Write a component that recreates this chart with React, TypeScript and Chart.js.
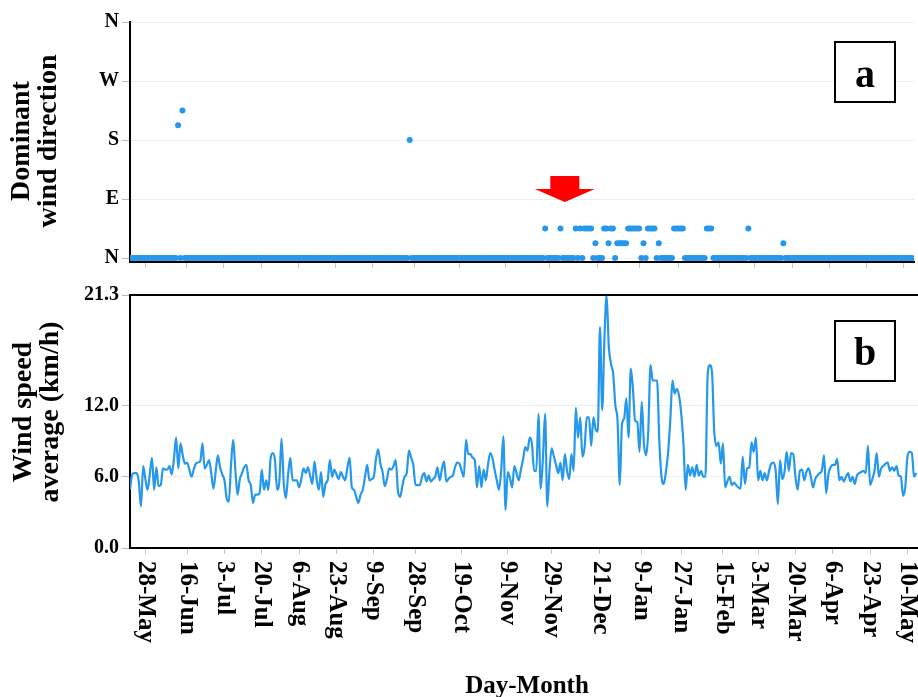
import { useEffect, useRef } from 'react';
import { Chart, registerables } from 'chart.js';

Chart.register(...registerables);

const FONT = "'Liberation Serif', 'Times New Roman', serif";
const BLUE = 'rgb(38, 152, 236)';

// Day 0 is 21-May; every series below is indexed by day.
const dayTickLabels = [
  '28-May', '16-Jun', '3-Jul', '20-Jul', '6-Aug', '23-Aug', '9-Sep', '28-Sep', '19-Oct', '9-Nov',
  '29-Nov', '21-Dec', '9-Jan', '27-Jan', '15-Feb', '3-Mar', '20-Mar', '6-Apr', '23-Apr', '10-May',
];
const dayTickOffsets = [7, 26, 43, 60, 77, 94, 111, 130, 151, 172, 192, 214, 233, 251, 270, 286, 303, 320, 337, 354];
const lastDay = 358.8;

// Daily average wind speed (km/h)
const windSpeed = [
  4.9, 6.2, 6.3, 6.3, 5.6, 3.5, 6.9, 5.8, 4.9, 6.2,
  7.6, 4.9, 6.8, 5.2, 5.3, 6.7, 6.6, 6.6, 6.9, 6.2,
  7.5, 9.3, 6.7, 8.8, 7.8, 7.1, 7.2, 6.6, 6.0, 6.6,
  7.1, 7.2, 7.3, 8.8, 6.7, 7.0, 7.4, 6.3, 5.0, 6.4,
  7.8, 6.8, 6.2, 5.7, 4.2, 3.9, 7.0, 9.1, 6.5, 4.5,
  5.8, 6.3, 6.8, 7.0, 5.7, 5.3, 3.8, 4.5, 4.5, 4.6,
  6.6, 4.9, 5.7, 4.9, 7.5, 8.0, 7.4, 4.9, 5.6, 9.2,
  5.5, 4.2, 6.2, 7.6, 5.7, 5.7, 5.7, 5.1, 5.8, 6.7,
  6.3, 6.8, 6.1, 5.4, 7.3, 5.8, 4.9, 6.4, 4.3, 5.4,
  5.7, 7.4, 6.0, 6.6, 6.2, 5.8, 6.4, 6.0, 5.7, 6.8,
  7.6, 5.1, 4.9, 4.3, 3.8, 4.5, 4.9, 6.0, 7.0, 5.7,
  5.8, 6.0, 7.5, 8.3, 7.1, 6.4, 5.2, 5.8, 6.7, 6.6,
  6.9, 7.4, 4.8, 4.3, 5.2, 6.0, 6.3, 8.2, 7.6, 7.0,
  5.3, 5.3, 5.3, 6.0, 6.3, 5.6, 6.1, 5.6, 5.8, 6.0,
  6.8, 5.7, 6.6, 7.3, 5.6, 5.8, 6.0, 6.1, 6.8, 7.2,
  7.1, 6.5, 6.0, 9.1, 7.9, 7.9, 7.6, 7.4, 5.1, 6.9,
  5.1, 6.6, 5.7, 7.0, 8.0, 7.6, 6.6, 5.7, 4.9, 6.5,
  9.4, 3.2, 6.4, 5.9, 5.1, 6.9, 6.3, 5.7, 6.6, 7.5,
  8.5, 8.2, 9.3, 8.8, 6.5, 6.5, 11.3, 5.0, 7.5, 11.3,
  3.5, 6.5, 8.4, 7.7, 7.0, 6.3, 7.2, 5.7, 7.9, 6.5,
  5.8, 7.9, 6.5, 11.8, 9.3, 11.0, 7.7, 8.5, 11.0, 11.0,
  8.6, 11.0, 10.0, 9.8, 18.6, 11.6, 17.5, 21.3, 17.0, 15.5,
  14.7, 12.0, 10.7, 5.3, 10.4, 10.9, 12.6, 9.3, 15.1, 13.4,
  10.7, 10.6, 8.1, 12.3, 8.8, 7.8, 9.9, 15.4, 14.1, 14.1,
  14.1, 9.1, 6.0, 5.4, 6.4, 8.0, 10.7, 14.1, 13.0, 13.4,
  12.8, 11.3, 8.8, 4.9, 7.0, 6.1, 6.8, 6.0, 7.0, 6.1,
  6.5, 6.0, 6.0, 14.5, 15.4, 14.8, 9.9, 8.6, 8.9, 7.1,
  8.8, 5.1, 5.6, 6.0, 5.3, 5.5, 5.3, 5.1, 5.0, 7.7,
  5.4, 6.7, 6.8, 8.9, 8.1, 9.3, 5.7, 6.5, 5.7, 6.3,
  5.7, 6.5, 7.1, 7.2, 6.5, 3.7, 7.4, 5.8, 6.4, 8.1,
  6.5, 8.0, 7.9, 6.0, 4.9, 6.5, 6.6, 5.7, 6.4, 6.7,
  6.0, 5.1, 5.8, 6.1, 6.3, 6.5, 7.8, 4.6, 6.2, 6.8,
  7.0, 7.0, 7.5, 5.7, 6.0, 5.6, 6.0, 6.3, 5.6, 6.0,
  5.4, 6.1, 6.3, 6.4, 6.5, 6.3, 8.6, 5.3, 5.8, 6.5,
  8.0, 6.0, 6.7, 6.9, 7.1, 7.2, 6.5, 6.8, 6.5, 6.9,
  6.1, 6.0, 4.4, 5.1, 7.7, 8.1, 8.0, 6.0, 6.3,
];

// Dominant wind direction: north (0°) on every day except those listed here
const turnDays = [
  22, 24, 128, 190, 197, 204, 206, 208, 209, 210, 211, 213, 217, 218, 219, 220, 221,
  223, 224, 225, 226, 227, 228, 229, 230, 231, 232, 233, 235, 237, 238, 239, 240, 242,
  249, 250, 251, 252, 253, 264, 265, 266, 283, 299,
];
const turnDegrees = [
  202.5, 225, 180, 45, 45, 45, 45, 45, 45, 45, 45, 22.5, 45, 45, 22.5, 45, 45,
  22.5, 22.5, 22.5, 22.5, 22.5, 45, 45, 45, 45, 45, 45, 22.5, 45, 45, 45, 45, 22.5,
  45, 45, 45, 45, 45, 45, 45, 45, 45, 22.5,
];

const directionTicks = [0, 90, 180, 270, 360];
const directionLabels = ['N', 'E', 'S', 'W', 'N'];
const speedTicks = [0, 6, 12, 21.3];
const arrowDay = 199;

const WIDTH = 918;
const TOP_H = 280;
const BOTTOM_H = 417;

function xAxis(height: number) {
  return {
    type: 'linear' as const,
    min: 0,
    max: lastDay,
    afterBuildTicks: (s: any) => {
      s.ticks = dayTickOffsets.map((v) => ({ value: v }));
    },
    afterFit: (s: any) => {
      s.height = height;
    },
    ticks: { display: false },
    grid: { drawOnChartArea: false, drawTicks: true, tickLength: 6, tickColor: '#c4c4c4', tickWidth: 1 },
    border: { display: true, color: '#000', width: 2 },
  };
}

function yAxisBase() {
  return {
    afterFit: (s: any) => {
      s.width = 130;
    },
    grid: { color: '#ededed', lineWidth: 1, drawTicks: true, tickLength: 8, tickColor: '#b8b8b8' },
    border: { display: true, color: '#000', width: 2 },
  };
}

function drawRotatedTitle(ctx: CanvasRenderingContext2D, lines: string[], xs: number[], y: number) {
  ctx.save();
  ctx.fillStyle = '#000';
  ctx.font = `bold 28px ${FONT}`;
  ctx.textAlign = 'center';
  ctx.textBaseline = 'middle';
  lines.forEach((t, i) => {
    ctx.save();
    ctx.translate(xs[i], y);
    ctx.rotate(-Math.PI / 2);
    ctx.fillText(t, 0, 0);
    ctx.restore();
  });
  ctx.restore();
}

function drawPanelTag(ctx: CanvasRenderingContext2D, letter: string, x: number, y: number, baseline: number) {
  ctx.save();
  ctx.fillStyle = '#fff';
  ctx.fillRect(x, y, 60, 60);
  ctx.strokeStyle = '#000';
  ctx.lineWidth = 2;
  ctx.strokeRect(x, y, 60, 60);
  ctx.fillStyle = '#000';
  ctx.font = `bold 40px ${FONT}`;
  ctx.textAlign = 'center';
  ctx.textBaseline = 'alphabetic';
  ctx.fillText(letter, x + 30, baseline);
  ctx.restore();
}

const tickFont = { family: FONT, size: 20, weight: 'bold' as const };

export default function App() {
  const topRef = useRef<HTMLCanvasElement>(null);
  const bottomRef = useRef<HTMLCanvasElement>(null);

  useEffect(() => {
    const directionPoints = windSpeed.map((_, day) => {
      const k = turnDays.indexOf(day);
      return { x: day, y: k >= 0 ? turnDegrees[k] : 0 };
    });
    const speedPoints = windSpeed.map((v, day) => ({ x: day, y: v }));

    const topChart = new Chart(topRef.current!, {
      type: 'scatter',
      data: {
        datasets: [
          {
            data: directionPoints,
            pointRadius: 3,
            pointBackgroundColor: BLUE,
            pointBorderWidth: 0,
            showLine: false,
          },
        ],
      },
      options: {
        responsive: false,
        animation: false,
        devicePixelRatio: 1,
        events: [],
        layout: { padding: { top: 22, left: 0, right: 0, bottom: 0 } },
        plugins: { legend: { display: false }, tooltip: { enabled: false } },
        scales: {
          x: xAxis(TOP_H - 262),
          y: {
            ...yAxisBase(),
            type: 'linear',
            min: -6,
            max: 360,
            afterBuildTicks: (s: any) => {
              s.ticks = directionTicks.map((v) => ({ value: v }));
            },
            ticks: {
              color: '#000',
              font: tickFont,
              padding: 3,
              callback: (_v: any, i: number) => directionLabels[i],
            },
          },
        },
      },
      plugins: [
        {
          id: 'directionDecor',
          afterDatasetsDraw(chart: any) {
            const { ctx, scales } = chart;
            const cx = scales.x.getPixelForValue(arrowDay);
            const tip = scales.y.getPixelForValue(90) + 3;
            ctx.save();
            ctx.fillStyle = '#ff0000';
            ctx.beginPath();
            ctx.moveTo(cx - 14.5, tip - 26);
            ctx.lineTo(cx + 14.5, tip - 26);
            ctx.lineTo(cx + 14.5, tip - 13);
            ctx.lineTo(cx + 30, tip - 13);
            ctx.lineTo(cx, tip);
            ctx.lineTo(cx - 30, tip - 13);
            ctx.lineTo(cx - 14.5, tip - 13);
            ctx.closePath();
            ctx.fill();
            ctx.restore();
          },
          afterDraw(chart: any) {
            const { ctx } = chart;
            drawRotatedTitle(ctx, ['Dominant', 'wind direction'], [22, 49], 141);
            drawPanelTag(ctx, 'a', 835, 42, 87);
          },
        },
      ],
    });

    const bottomChart = new Chart(bottomRef.current!, {
      type: 'line',
      data: {
        datasets: [
          {
            data: speedPoints,
            borderColor: BLUE,
            borderWidth: 2.2,
            pointRadius: 0,
            fill: false,
            tension: 0.4,
            cubicInterpolationMode: 'monotone',
          },
        ],
      },
      options: {
        responsive: false,
        animation: false,
        devicePixelRatio: 1,
        events: [],
        layout: { padding: { top: 14, left: 0, right: 0, bottom: 0 } },
        plugins: { legend: { display: false }, tooltip: { enabled: false } },
        scales: {
          x: xAxis(BOTTOM_H - 268),
          y: {
            ...yAxisBase(),
            type: 'linear',
            min: 0,
            max: 21.3,
            afterBuildTicks: (s: any) => {
              s.ticks = speedTicks.map((v) => ({ value: v }));
            },
            ticks: {
              color: '#000',
              font: tickFont,
              padding: 3,
              callback: (v: any) => Number(v).toFixed(1),
            },
          },
        },
      },
      plugins: [
        {
          id: 'speedDecor',
          afterDraw(chart: any) {
            const { ctx, chartArea, scales } = chart;
            ctx.save();
            // frame line along the top of the plot
            ctx.strokeStyle = '#000';
            ctx.lineWidth = 2;
            ctx.beginPath();
            ctx.moveTo(chartArea.left - 1, chartArea.top);
            ctx.lineTo(chartArea.right, chartArea.top);
            ctx.stroke();

            // day-month labels, reading downwards
            ctx.fillStyle = '#000';
            ctx.font = `bold 25px ${FONT}`;
            ctx.textAlign = 'left';
            ctx.textBaseline = 'middle';
            dayTickOffsets.forEach((d, i) => {
              const px = scales.x.getPixelForValue(d);
              ctx.save();
              ctx.translate(px, chartArea.bottom + 13);
              ctx.rotate(Math.PI / 2);
              ctx.fillText(dayTickLabels[i], 0, 0);
              ctx.restore();
            });

            ctx.font = `bold 25px ${FONT}`;
            ctx.textAlign = 'center';
            ctx.textBaseline = 'alphabetic';
            ctx.fillText('Day-Month', (chartArea.left + chartArea.right) / 2 + 3, 413);
            ctx.restore();

            drawRotatedTitle(ctx, ['Wind speed', 'average (km/h)'], [24, 51], 132);
            drawPanelTag(ctx, 'b', 835, 41, 85);
          },
        },
      ],
    });

    return () => {
      topChart.destroy();
      bottomChart.destroy();
    };
  }, []);

  return (
    <div style={{ position: 'fixed', left: 0, top: 0, width: WIDTH, height: 697, background: '#fff', overflow: 'hidden' }}>
      <canvas
        ref={topRef}
        width={WIDTH}
        height={TOP_H}
        style={{ position: 'absolute', left: 0, top: 0, display: 'block' }}
      />
      <canvas
        ref={bottomRef}
        width={WIDTH}
        height={BOTTOM_H}
        style={{ position: 'absolute', left: 0, top: TOP_H, display: 'block' }}
      />
    </div>
  );
}
